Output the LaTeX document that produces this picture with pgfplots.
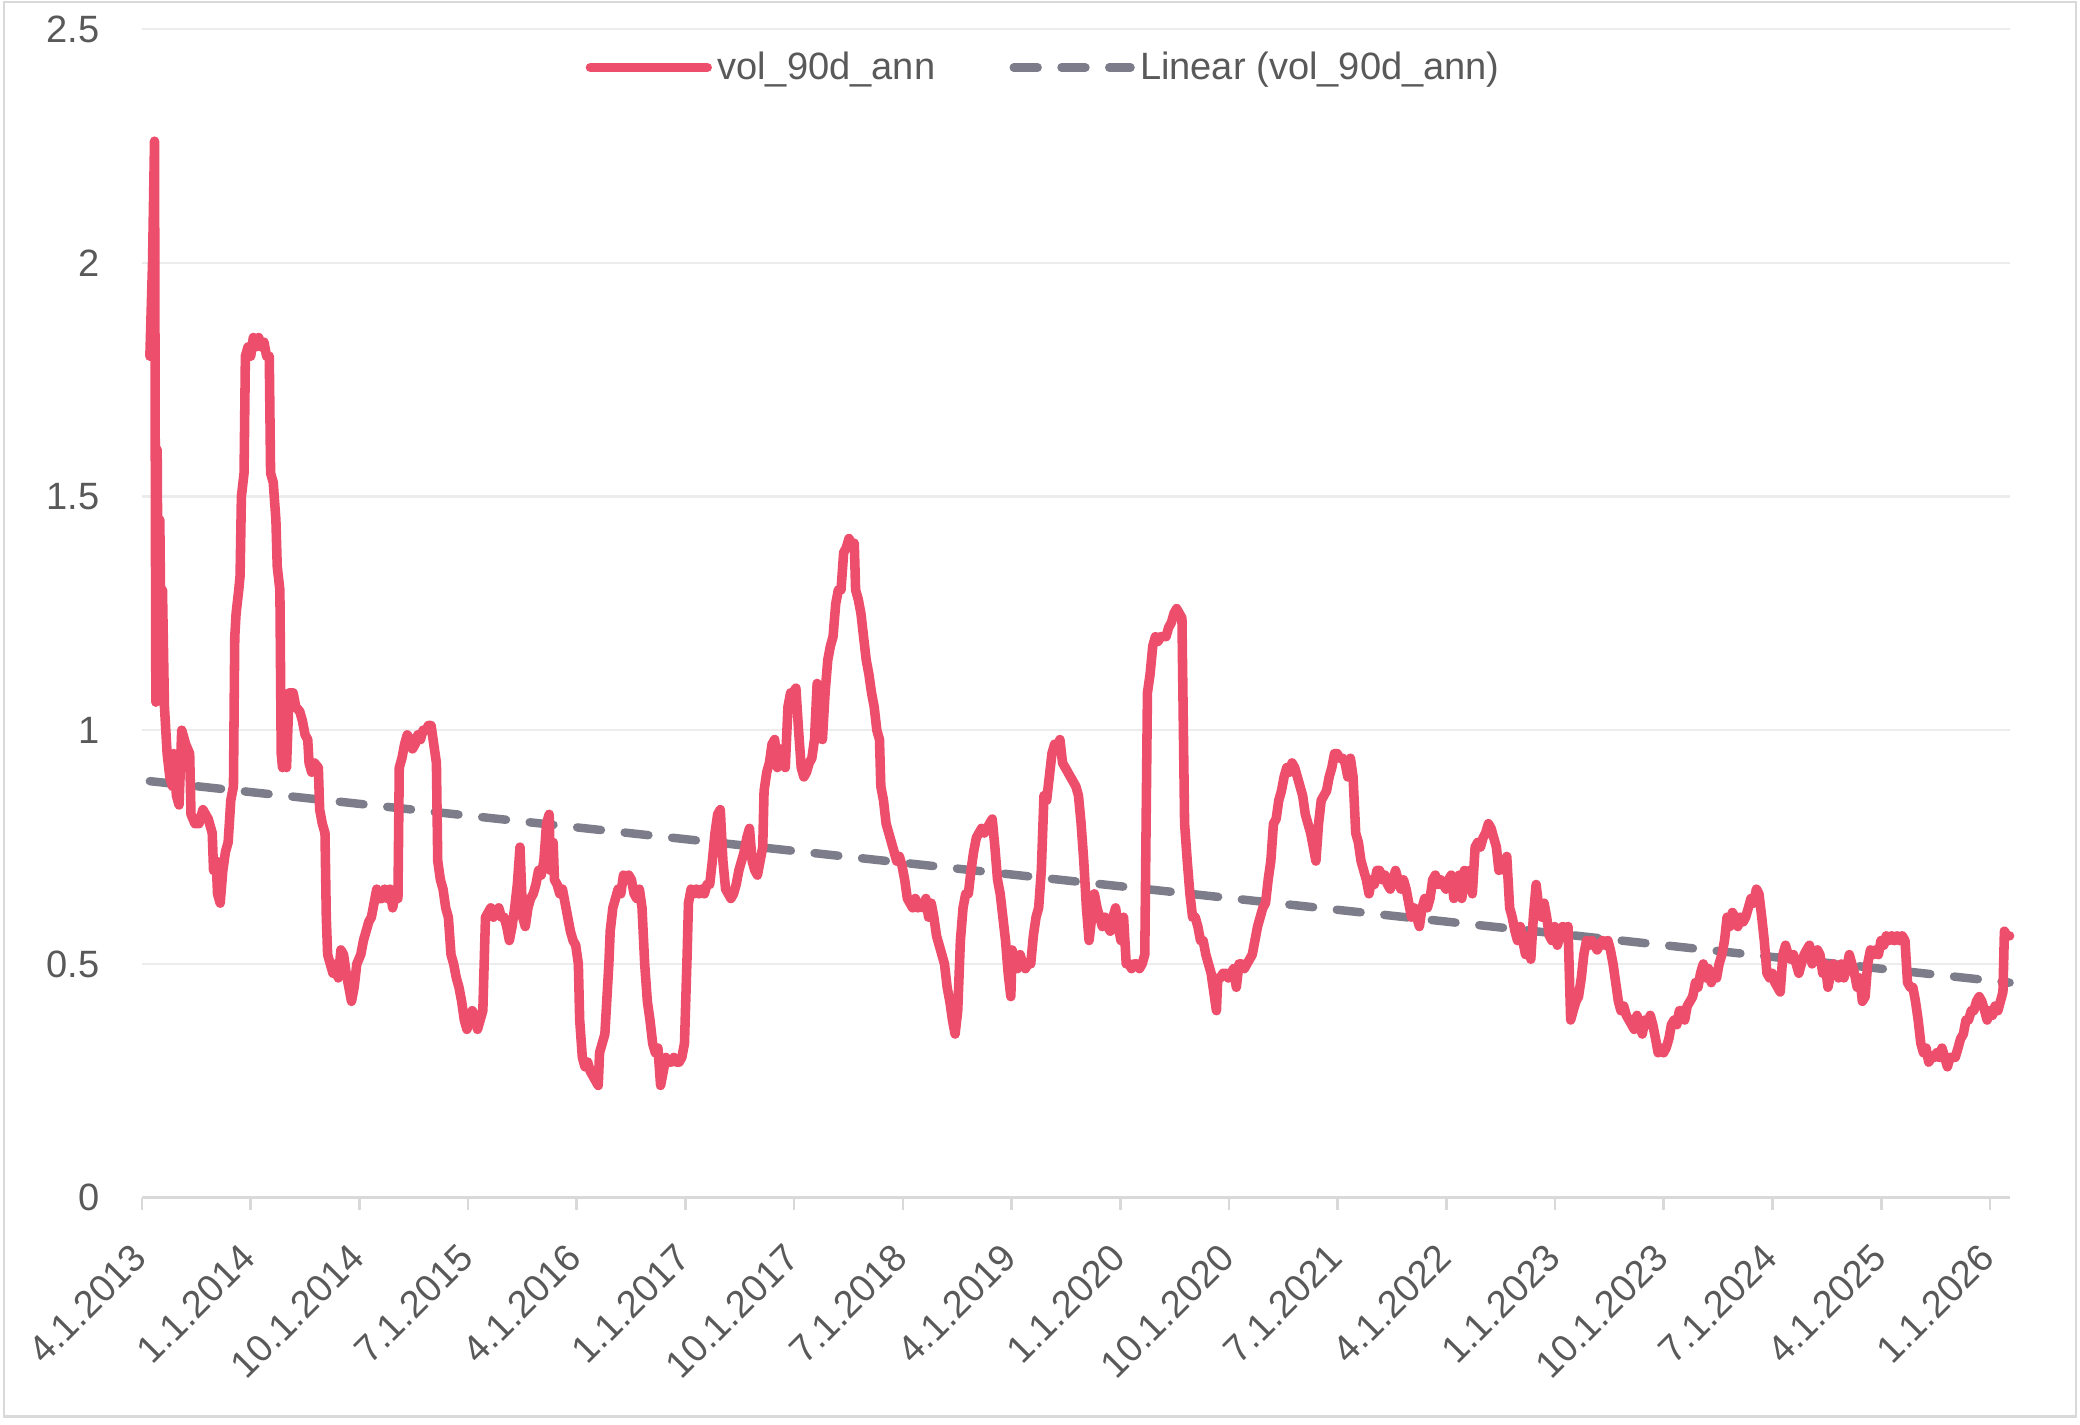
\documentclass[border=0pt]{standalone}
\usepackage{fontspec}
\setmainfont{Liberation Sans}
\usepackage{pgfplots}
\usepackage{pgfplotstable}
\pgfplotsset{compat=1.18}
\definecolor{volred}{HTML}{EC4E6B}
\definecolor{trendgray}{HTML}{7C7C8A}
\definecolor{gridgray}{HTML}{ECECEC}
\definecolor{axisgray}{HTML}{D9D9D9}
\definecolor{labelgray}{HTML}{595959}
\definecolor{framegray}{HTML}{D9D9D9}

% px = horizontal position (4.1.2013 at 107, 9.105 per month)
\pgfplotstableread{
px val
113 1.80
115 2.00
116.5 2.26
117.5 1.06
118.5 1.60
119.5 1.10
120.5 1.45
121.5 1.15
122.5 1.30
124 1.05
126 0.95
128 0.90
130 0.88
131 0.95
133 0.86
135 0.84
137 1.00
140 0.97
143 0.95
144 0.82
147 0.80
150 0.80
153 0.83
157 0.81
160 0.78
161 0.70
163 0.72
164 0.65
166 0.63
168 0.70
170 0.74
172 0.76
174 0.85
176 0.88
177 1.20
178 1.25
180 1.30
181 1.33
182 1.50
184 1.55
185 1.80
187 1.82
189 1.80
191 1.84
193 1.82
195 1.84
197 1.82
199 1.83
201 1.80
203 1.80
204 1.55
206 1.53
208 1.45
209 1.35
211 1.30
212 0.95
213 0.92
215 0.98
216 0.92
218 1.08
221 1.08
223 1.05
226 1.04
228 1.02
230 0.99
232 0.98
233 0.93
235 0.91
237 0.93
240 0.92
241 0.83
243 0.80
245 0.78
246 0.60
247 0.52
249 0.50
251 0.48
253 0.50
255 0.47
257 0.53
259 0.52
261 0.48
263 0.45
265 0.42
267 0.45
269 0.50
272 0.52
274 0.55
276 0.57
278 0.59
280 0.60
282 0.63
284 0.66
286 0.64
288 0.64
290 0.66
292 0.64
294 0.66
296 0.62
298 0.65
300 0.64
301 0.92
303 0.94
305 0.97
307 0.99
309 0.98
311 0.96
313 0.97
315 0.99
317 0.98
319 1.00
321 1.00
323 1.01
325 1.01
327 0.97
329 0.93
330 0.72
332 0.68
334 0.66
336 0.62
338 0.60
340 0.52
342 0.50
344 0.47
346 0.45
348 0.42
350 0.38
352 0.36
354 0.38
356 0.40
358 0.39
360 0.36
362 0.38
364 0.40
366 0.60
368 0.61
370 0.62
372 0.60
374 0.61
376 0.62
378 0.60
380 0.60
382 0.58
384 0.55
386 0.58
388 0.62
390 0.67
392 0.75
394 0.60
396 0.58
398 0.62
400 0.64
402 0.65
404 0.67
406 0.70
408 0.69
410 0.72
412 0.80
414 0.82
415 0.70
417 0.76
418 0.68
420 0.67
422 0.65
424 0.66
426 0.63
428 0.60
430 0.57
432 0.55
434 0.54
436 0.50
437 0.38
439 0.30
441 0.28
443 0.29
445 0.27
447 0.26
449 0.25
451 0.24
452 0.31
454 0.33
456 0.35
458 0.45
459 0.50
460 0.57
462 0.62
464 0.64
466 0.66
468 0.65
470 0.69
472 0.68
474 0.69
476 0.68
478 0.65
480 0.64
482 0.66
484 0.62
486 0.50
488 0.42
490 0.38
492 0.33
494 0.31
496 0.32
498 0.24
500 0.27
502 0.30
504 0.29
506 0.29
508 0.30
510 0.29
512 0.29
514 0.30
516 0.33
518 0.52
519 0.63
521 0.66
523 0.65
525 0.66
527 0.65
529 0.66
531 0.65
533 0.67
535 0.67
537 0.72
539 0.78
541 0.82
543 0.83
545 0.72
547 0.66
549 0.65
551 0.64
553 0.65
555 0.67
557 0.70
559 0.72
561 0.74
563 0.77
565 0.79
567 0.72
569 0.70
571 0.69
573 0.72
575 0.75
576 0.87
578 0.91
580 0.93
582 0.97
584 0.98
586 0.92
588 0.96
590 0.93
592 0.92
594 1.05
596 1.08
598 1.08
600 1.09
602 1.00
604 0.92
606 0.90
608 0.91
610 0.93
612 0.94
614 0.98
616 1.10
618 1.00
620 0.98
622 1.08
624 1.15
626 1.18
628 1.20
630 1.27
632 1.30
634 1.30
636 1.38
638 1.39
640 1.41
642 1.40
644 1.40
645 1.30
647 1.28
649 1.25
651 1.20
653 1.15
655 1.12
657 1.08
659 1.05
661 1.00
663 0.98
664 0.88
666 0.85
668 0.80
670 0.78
672 0.76
674 0.74
676 0.72
678 0.73
680 0.71
682 0.68
684 0.64
686 0.63
688 0.62
690 0.64
692 0.62
694 0.63
696 0.62
698 0.64
700 0.60
702 0.63
704 0.60
706 0.56
708 0.54
710 0.52
712 0.50
714 0.45
716 0.42
718 0.38
720 0.35
722 0.40
724 0.55
726 0.62
728 0.65
730 0.65
732 0.70
734 0.74
736 0.77
738 0.78
740 0.79
742 0.78
744 0.79
746 0.80
748 0.81
750 0.75
752 0.68
754 0.65
756 0.60
758 0.55
760 0.48
762 0.43
763 0.53
765 0.50
767 0.49
769 0.52
771 0.50
773 0.49
775 0.50
777 0.50
779 0.56
781 0.60
783 0.62
785 0.70
787 0.86
789 0.85
791 0.90
793 0.95
795 0.97
797 0.96
799 0.98
801 0.93
803 0.92
805 0.91
807 0.90
809 0.89
811 0.88
813 0.86
815 0.80
817 0.72
819 0.62
821 0.55
823 0.60
825 0.65
827 0.62
829 0.60
831 0.58
833 0.60
835 0.58
837 0.57
839 0.60
841 0.62
843 0.58
845 0.55
847 0.60
849 0.50
851 0.50
853 0.49
855 0.50
857 0.50
859 0.49
861 0.50
863 0.52
865 1.08
867 1.12
869 1.18
871 1.20
873 1.19
875 1.20
877 1.20
879 1.20
881 1.22
883 1.23
885 1.25
887 1.26
889 1.25
891 1.24
893 0.80
895 0.72
897 0.65
899 0.60
901 0.60
903 0.58
905 0.55
907 0.55
909 0.52
911 0.50
913 0.48
915 0.44
917 0.40
918 0.47
920 0.47
922 0.48
924 0.48
926 0.47
928 0.48
930 0.49
932 0.45
934 0.50
936 0.50
938 0.49
940 0.50
942 0.51
944 0.52
946 0.55
948 0.58
950 0.60
952 0.62
954 0.63
956 0.68
958 0.72
960 0.80
962 0.81
964 0.85
966 0.87
968 0.90
970 0.92
972 0.91
974 0.93
976 0.92
978 0.90
980 0.88
982 0.86
984 0.82
986 0.80
988 0.78
990 0.75
992 0.72
994 0.80
996 0.85
998 0.86
1000 0.87
1002 0.90
1004 0.92
1006 0.95
1008 0.95
1010 0.94
1012 0.94
1014 0.93
1016 0.90
1018 0.94
1020 0.90
1022 0.78
1024 0.76
1026 0.72
1028 0.70
1030 0.68
1032 0.65
1034 0.68
1036 0.67
1038 0.70
1040 0.70
1042 0.68
1044 0.69
1046 0.67
1048 0.66
1050 0.68
1052 0.70
1054 0.68
1056 0.66
1058 0.68
1060 0.66
1062 0.63
1064 0.60
1066 0.62
1068 0.60
1070 0.58
1072 0.62
1074 0.64
1076 0.62
1078 0.64
1080 0.68
1082 0.69
1084 0.67
1086 0.68
1088 0.67
1090 0.66
1092 0.68
1094 0.69
1096 0.64
1098 0.66
1100 0.69
1102 0.64
1104 0.70
1106 0.69
1108 0.70
1110 0.65
1112 0.75
1114 0.76
1116 0.75
1118 0.77
1120 0.78
1122 0.80
1124 0.79
1126 0.77
1128 0.75
1130 0.70
1132 0.72
1134 0.70
1136 0.73
1138 0.62
1140 0.60
1142 0.57
1144 0.55
1146 0.58
1148 0.55
1150 0.52
1152 0.56
1154 0.51
1156 0.60
1158 0.67
1160 0.62
1162 0.60
1164 0.63
1166 0.60
1168 0.56
1170 0.55
1172 0.58
1174 0.54
1176 0.56
1178 0.58
1180 0.57
1182 0.58
1184 0.38
1186 0.40
1188 0.42
1190 0.43
1192 0.47
1194 0.52
1196 0.55
1198 0.54
1200 0.55
1202 0.54
1204 0.53
1206 0.54
1208 0.55
1210 0.54
1212 0.55
1214 0.53
1216 0.50
1218 0.46
1220 0.42
1222 0.40
1224 0.41
1226 0.39
1228 0.38
1230 0.37
1232 0.36
1234 0.39
1236 0.37
1238 0.35
1240 0.38
1242 0.37
1244 0.39
1246 0.37
1248 0.34
1250 0.31
1252 0.32
1254 0.31
1256 0.32
1258 0.34
1260 0.37
1262 0.38
1264 0.37
1266 0.40
1268 0.40
1270 0.38
1272 0.41
1274 0.42
1276 0.43
1278 0.46
1280 0.45
1282 0.48
1284 0.50
1286 0.47
1288 0.49
1290 0.46
1292 0.48
1294 0.47
1296 0.50
1298 0.52
1300 0.55
1302 0.60
1304 0.58
1306 0.61
1308 0.60
1310 0.58
1312 0.60
1314 0.59
1316 0.60
1318 0.62
1320 0.64
1322 0.63
1324 0.66
1326 0.65
1328 0.60
1330 0.55
1332 0.48
1334 0.47
1336 0.48
1338 0.46
1340 0.45
1342 0.44
1344 0.52
1346 0.54
1348 0.52
1350 0.51
1352 0.52
1354 0.50
1356 0.48
1358 0.50
1360 0.52
1362 0.53
1364 0.54
1366 0.50
1368 0.52
1370 0.53
1372 0.52
1374 0.48
1376 0.50
1378 0.45
1380 0.48
1382 0.50
1384 0.49
1386 0.47
1388 0.50
1390 0.47
1392 0.49
1394 0.52
1396 0.50
1398 0.48
1400 0.45
1402 0.47
1404 0.42
1406 0.43
1408 0.50
1410 0.53
1412 0.52
1414 0.53
1416 0.52
1418 0.55
1420 0.54
1422 0.56
1424 0.55
1426 0.56
1428 0.55
1430 0.56
1432 0.55
1434 0.56
1436 0.55
1438 0.46
1440 0.45
1442 0.45
1444 0.42
1446 0.38
1448 0.33
1450 0.31
1452 0.32
1454 0.29
1456 0.30
1458 0.30
1460 0.31
1462 0.30
1464 0.32
1466 0.30
1468 0.28
1470 0.30
1472 0.30
1474 0.30
1476 0.32
1478 0.34
1480 0.35
1482 0.38
1484 0.38
1486 0.40
1488 0.40
1490 0.42
1492 0.43
1494 0.42
1496 0.40
1498 0.38
1500 0.40
1502 0.39
1504 0.41
1506 0.40
1508 0.42
1510 0.44
1511 0.57
1513 0.56
1515 0.56
}\voldata

\pgfplotstableread{
px val
113 0.891
1515 0.460
}\trenddata

\newcommand{\lblfont}{\fontsize{14.4}{16}\selectfont}

\begin{document}
\begin{tikzpicture}
\begin{axis}[
  scale only axis,
  width=704bp, height=440.5bp,
  xmin=0, xmax=154.64, ymin=0, ymax=2.5,
  axis x line*=bottom, axis y line*=left,
  y axis line style={draw=none},
  x axis line style={axisgray, line width=1bp},
  ytick={0,0.5,1,1.5,2,2.5},
  ymajorgrids,
  major grid style={gridgray, line width=0.9bp},
  xtick={0,9,...,153},
  xticklabels={4.1.2013,1.1.2014,10.1.2014,7.1.2015,4.1.2016,1.1.2017,10.1.2017,7.1.2018,4.1.2019,1.1.2020,10.1.2020,7.1.2021,4.1.2022,1.1.2023,10.1.2023,7.1.2024,4.1.2025,1.1.2026},
  xtick style={axisgray, line width=1bp},
  ytick style={draw=none},
  tick align=outside,
  major tick length=4.5bp,
  xticklabel style={rotate=45, anchor=east, font=\lblfont, text=labelgray, inner sep=1bp, xshift=-10.6bp, yshift=-10.6bp},
  yticklabel style={font=\lblfont, text=labelgray, xshift=-8bp},
  /pgf/number format/assume math mode=true,
  clip=false,
  legend style={at={(0.4837,0.99)}, anchor=north, draw=none, fill=none,
    font=\lblfont, text=labelgray,
    /tikz/every even column/.append style={column sep=26bp}},
  legend columns=2,
  legend cell align=left,
  legend image code/.code={\draw[#1] (0bp,0bp) -- (44bp,0bp);},
]
\addlegendimage{volred, line width=3.6bp, line cap=round}
\addlegendentry{vol\_90d\_ann}
\addplot[trendgray, line width=3.2bp, line cap=round, dash pattern=on 9bp off 9bp]
  table[x expr=(\thisrow{px}-107)/9.105, y=val]{\trenddata};
\addlegendentry{Linear (vol\_90d\_ann)}
\addplot[volred, line width=3.6bp, line join=round, line cap=round, forget plot]
  table[x expr=(\thisrow{px}-107)/9.105, y=val]{\voldata};
\path (axis cs:-11.75,-0.485) rectangle (axis cs:160.46,2.562);
\draw[framegray, line width=0.8bp] (axis cs:-11.42,-0.468) rectangle (axis cs:160.13,2.557);
\end{axis}
\end{tikzpicture}
\end{document}
